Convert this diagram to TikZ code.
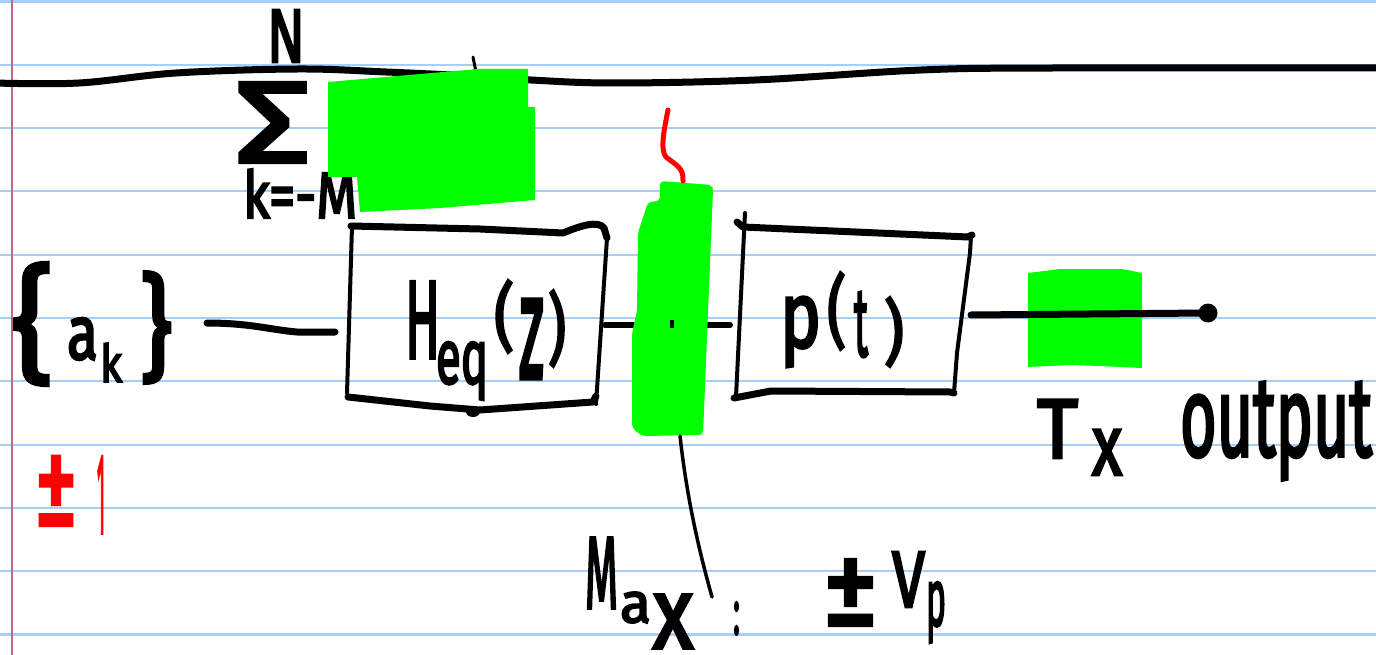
\documentclass[tikz,border=0pt]{standalone}
\usepackage{fontspec}
\setmainfont{Fira Sans}
\newfontfamily\handfont{Fira Sans}[FakeBold=3.5]
\usepackage{graphicx}
\newsavebox\hgbox
\newcommand\hglyph[4]{\sbox\hgbox{\resizebox*{#1}{#2}{#4}}\raisebox{\dimexpr#3+\dp\hgbox\relax}{\usebox\hgbox}}
\definecolor{paperblue}{RGB}{168,206,246}
\definecolor{marginred}{RGB}{192,104,140}
\definecolor{hlgreen}{RGB}{0,255,0}
\definecolor{pen}{RGB}{0,0,0}
\definecolor{redpen}{RGB}{255,0,0}
\begin{document}
\begin{tikzpicture}[x=1pt,y=-1pt,
  txt/.style={inner sep=0pt,outer sep=0pt,anchor=base west,text=pen,font=\handfont},
  rule/.style={draw=paperblue,line width=2.2pt},
  ink/.style={draw=pen,line width=#1,line cap=round,line join=round},
  redink/.style={draw=redpen,line width=#1,line cap=round,line join=round},
  boxnode/.style={inner sep=0pt,outer sep=0pt,draw=none}]
\useasboundingbox (0,0) rectangle (1376,655);
\fill[white] (0,0) rectangle (1376,655);
% ruled paper
\foreach \k in {0,...,10} \draw[rule] (0,{1.5+63.3*\k}) -- (1376,{1.5+63.3*\k});
\draw[draw=marginred,line width=1.5pt] (12,0) -- (12,655);

% green highlight under the output line
\fill[hlgreen] (1028,273) -- (1060,269) -- (1122,269) -- (1142,273) -- (1142,368) -- (1100,366) -- (1070,365) -- (1028,367) -- cycle;

% fraction bar and tick
\draw[ink=7pt] plot[smooth,tension=0.6] coordinates {(-5,83) (79,83) (176,73) (298,69) (386,72) (470,76) (531,80) (614,83) (755,80) (921,70) (1053,68) (1381,68)};
\draw[ink=3pt] (473,57) -- (476,72);

% summation
\node[txt] (N) at (267,62) {\hglyph{38pt}{52pt}{0pt}{N}};
\node[txt] (sigma) at (235,162) {\hglyph{75pt}{79pt}{0pt}{Σ}};
\node[txt] (klow) at (243,218) {\hglyph{114pt}{49pt}{0pt}{k=-M}};

% input symbols
\node[txt] (ak) at (12,360) {\hglyph{41pt}{122pt}{-25pt}{\{}\hspace{14pt}\hglyph{31pt}{42pt}{0pt}{a}\hspace{2pt}\hglyph{22pt}{39pt}{-22pt}{k}\hspace{18pt}\hglyph{32pt}{111pt}{-23pt}{\}}};
\node[txt,text=redpen] (pm1) at (35,525) {\hglyph{42pt}{68pt}{0pt}{±}\hspace{20pt}\hglyph{8pt}{76pt}{-8pt}{1}};

% H_eq(z) block
\node[boxnode,minimum width=259pt,minimum height=175pt] (hbox) at (477.5,312.5) {};
\draw[ink=7pt] (351,226) -- (480,229) -- (563,233) .. controls (580,226) and (598,220) .. (604,228) -- (607,238);
\draw[ink=4pt] (607,238) -- (596,404);
\draw[ink=4pt] (352,226) -- (347,393);
\draw[ink=7pt] (348,397) -- (430,406) -- (480,410) -- (593,402) -- (596,396);
\fill[pen] (473,412) ellipse (7pt and 5pt);
\node[txt] (heq) at (405,358) {\hglyph{35pt}{76pt}{0pt}{H}\hspace{-4pt}\hglyph{52pt}{58pt}{-42pt}{eq}\hspace{6pt}\hglyph{20pt}{73pt}{5pt}{(}\hspace{5pt}\hglyph{25pt}{78pt}{-20pt}{z}\hspace{4pt}\hglyph{18pt}{77pt}{-9pt}{)}};

% p(t) block
\node[boxnode,minimum width=233pt,minimum height=172pt] (pbox) at (853,309) {};
\draw[ink=7pt] (737,222) -- (743,227) -- (968,237) -- (972,235);
\draw[ink=4pt] (745,213) -- (736,397);
\draw[ink=4pt] (971,236) -- (970,253) -- (957,353) -- (954,393);
\draw[ink=7pt] (734,398) -- (771,391) -- (950,392) -- (954,393);
\node[txt] (pt) at (780,357) {\hglyph{41pt}{70pt}{-10pt}{p}\hspace{6pt}\hglyph{19pt}{78pt}{7pt}{(}\hspace{8pt}\hglyph{14pt}{65pt}{0pt}{t}\hspace{16pt}\hglyph{20pt}{70pt}{-10pt}{)}};

% connectors
\coordinate (w1) at (207,323);
\coordinate (w2) at (297,332);
\coordinate (w3) at (335,332);
\draw[ink=7pt] (w1) .. controls (250,323) and (272,330) .. (w2) -- (w3);
\coordinate (h1) at (605,325);
\coordinate (p1) at (730,325);
\draw[ink=6pt] (h1) -- (p1);
\node[circle,fill=pen,inner sep=0pt,minimum size=19pt] (odot) at (1208,313) {};
\coordinate (p2) at (971,315);
\draw[ink=7pt] (p2) -- (odot.center);

% output label
\node[txt] (out) at (1037,458) {\hglyph{41pt}{58pt}{0pt}{T}\hspace{14pt}\hglyph{30pt}{45pt}{-17pt}{x}\hspace{58pt}\hglyph{192pt}{98pt}{-22pt}{output}};

% max label
\node[txt] (max) at (585,608) {\hglyph{33pt}{70pt}{0pt}{M}\hspace{2pt}\hglyph{31pt}{31pt}{-15pt}{a}\hspace{2pt}\hglyph{40pt}{53pt}{-40pt}{x}};
\node[txt] (colon) at (733,635) {\hglyph{7pt}{33pt}{0pt}{:}};
\node[txt] (vp) at (823,625) {\hglyph{55pt}{65pt}{0pt}{±}\hspace{14pt}\hglyph{33pt}{55pt}{18pt}{V}\hspace{1pt}\hglyph{20pt}{61pt}{-18pt}{p}};

% green highlights on top
\fill[hlgreen] (328,82) -- (478,69) -- (528,69) -- (528,107) -- (535,107) -- (535,200) -- (440,208) -- (360,212) -- (357,177) -- (328,177) -- cycle;
\fill[hlgreen,rounded corners=4pt] (660,181) -- (712,185) -- (713,190) -- (703,435) -- (642,436) -- (632,428) -- (632,333) -- (637,311) -- (638,233) -- (648,202) -- (660,201) -- cycle;
\fill[pen] (670,320) rectangle (674,328);

% sampler marks
\coordinate (r1) at (668,110);
\coordinate (r2) at (683,181);
\draw[redink=5pt] (r1) .. controls (664,130) and (660,150) .. (666,157) .. controls (676,165) and (684,168) .. (r2);
\coordinate (s1) at (680,436);
\coordinate (m1) at (712,597);
\draw[ink=3.5pt] (s1) .. controls (686,490) and (696,540) .. (m1);
\end{tikzpicture}
\end{document}
